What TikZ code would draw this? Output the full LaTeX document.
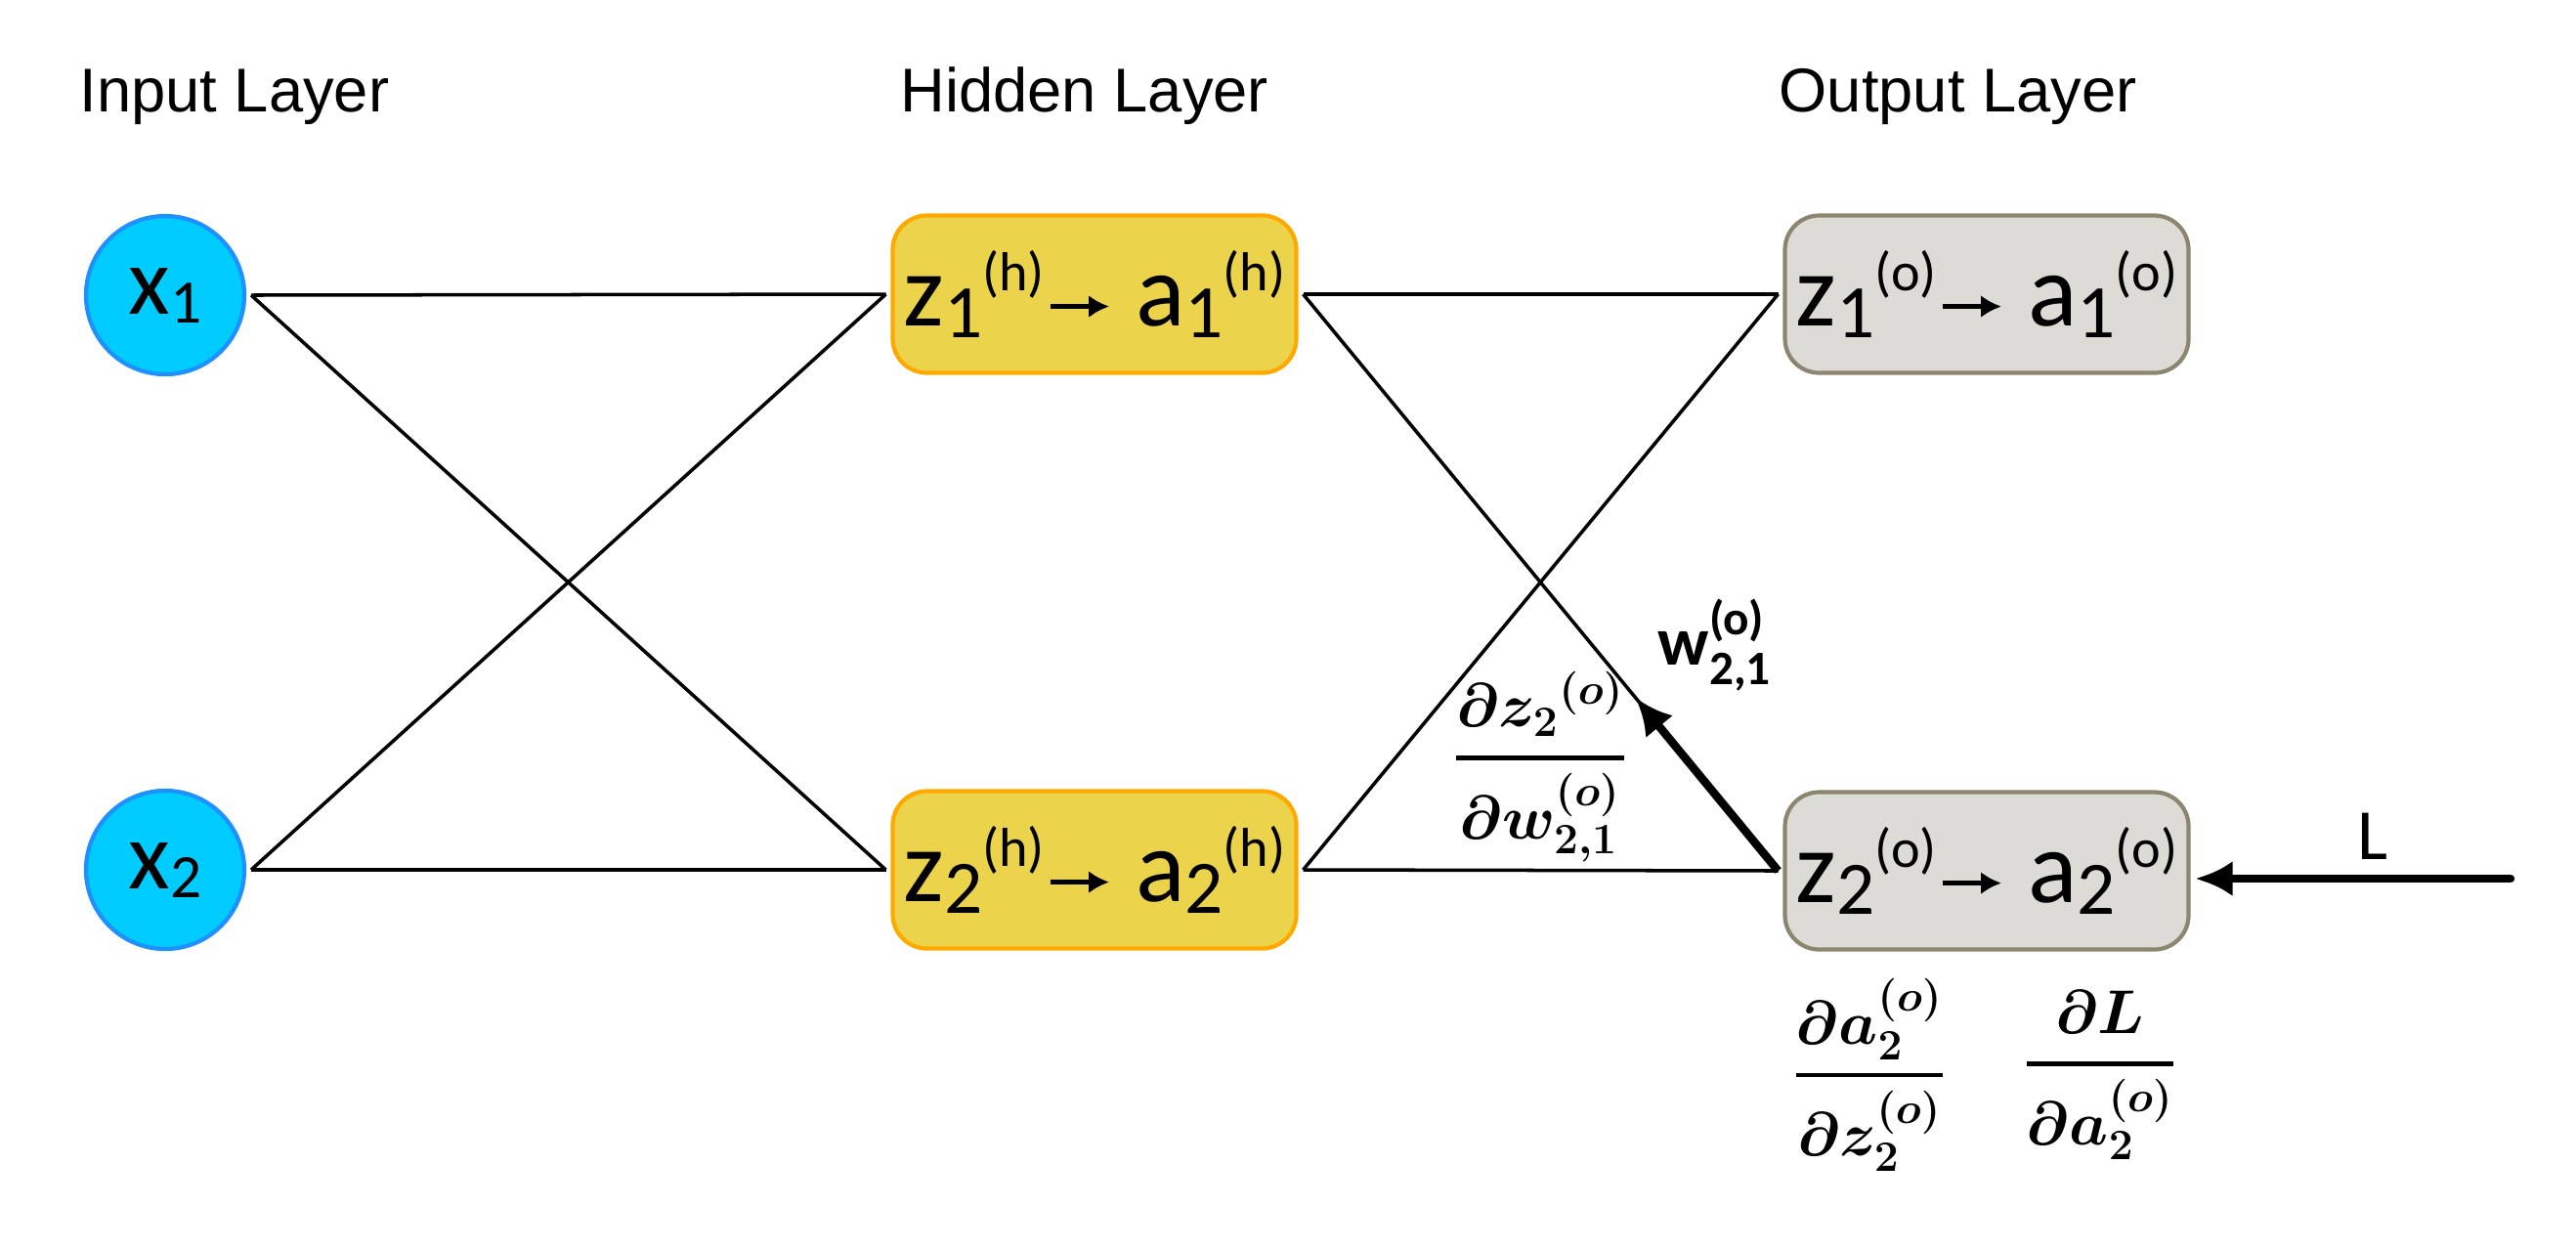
\documentclass[tikz,border=0pt]{standalone}
\usepackage{fix-cm}
\usepackage{amsmath}
\usepackage{fontspec}
\setmainfont{Carlito}
\newfontfamily\titlefont{Liberation Sans}
\usetikzlibrary{arrows.meta,calc,positioning}

\definecolor{inputfill}{RGB}{0,204,255}
\definecolor{inputborder}{RGB}{30,144,255}
\definecolor{hiddenfill}{RGB}{236,211,76}
\definecolor{hiddenborder}{RGB}{255,168,0}
\definecolor{outputfill}{RGB}{221,219,214}
\definecolor{outputborder}{RGB}{140,134,112}

\newcommand{\actarrow}{\hspace{0.04cm}\tikz[baseline=0pt]\draw[black,sharp corners,line width=1.2pt,-{Latex[length=0.21cm,width=0.23cm]}] (0,0.2) -- (0.6,0.2);\hspace{0.25cm}}
\newcommand{\actv}[3]{#1\raisebox{-0.12cm}{\fontsize{22}{22}\selectfont #2}\raisebox{0.36cm}{\fontsize{16}{16}\selectfont (#3)}}
\newcommand{\flowtext}[2]{\fontsize{30}{30}\selectfont\actv{z}{#1}{#2}\actarrow\actv{a}{#1}{#2}}
\newcommand{\inputtext}[1]{\fontsize{28}{28}\selectfont x\raisebox{-0.09cm}{\fontsize{18}{18}\selectfont #1}}
\newcommand{\thickfrac}[2]{\genfrac{}{}{1.3pt}{0}{#1}{#2}}

\begin{document}
\begin{tikzpicture}[x=1cm,y=1cm]
\tikzstyle{inputnode} = [circle, draw=inputborder, fill=inputfill, line width=1.2pt, minimum size=1.62cm, inner sep=0pt, outer sep=0.07cm]
\tikzstyle{hiddennode} = [rectangle, rounded corners=0.35cm, draw=hiddenborder, fill=hiddenfill, line width=1.2pt, minimum width=4.13cm, minimum height=1.61cm, inner sep=0pt, outer sep=0.07cm]
\tikzstyle{outputnode} = [hiddennode, draw=outputborder, fill=outputfill]
\tikzstyle{layertitle} = [anchor=base west, font=\titlefont\fontsize{18}{18}\selectfont, inner sep=0pt]
\tikzstyle{edge} = [line width=1pt]
\tikzstyle{backprop} = [line width=2.4pt, -{Latex[length=0.38cm,width=0.36cm]}]
\tikzstyle{deriv} = [font=\fontsize{18}{18}\selectfont\boldmath, inner sep=0pt]

\fill[white] (0,0) rectangle (26.36,-12.78);
\useasboundingbox (0,0) rectangle (26.36,-12.78);

\node[layertitle] (intitle) at (0.81,-1.14) {Input Layer};
\node[layertitle] (hidtitle) at (9.21,-1.14) {Hidden Layer};
\node[layertitle] (outtitle) at (18.20,-1.14) {Output Layer};

\node[inputnode] (x1) at (1.69,-3.02) {\inputtext{1}};
\node[inputnode] (x2) at (1.69,-8.90) {\inputtext{2}};
\node[hiddennode] (h1) at (11.20,-3.01) {\flowtext{1}{h}};
\node[hiddennode] (h2) at (11.20,-8.90) {\flowtext{2}{h}};
\node[outputnode] (o1) at (20.33,-3.01) {\flowtext{1}{o}};
\node[outputnode] (o2) at (20.33,-8.91) {\flowtext{2}{o}};

\draw[edge] (x1.east) -- (h1.west);
\draw[edge] (x1.east) -- (h2.west);
\draw[edge] (x2.east) -- (h1.west);
\draw[edge] (x2.east) -- (h2.west);
\draw[edge] (h1.east) -- (o1.west);
\draw[edge] (h1.east) -- (o2.west);
\draw[edge] (h2.east) -- (o1.west);
\draw[edge] (h2.east) -- (o2.west);

\draw[backprop] (o2.west) -- ($(o2.west)!0.3!(h1.east)$);
\coordinate (lossin) at (25.69,-8.99);
\draw[backprop, line cap=round] (lossin) -- (lossin -| o2.east);
\node[font=\fontsize{21}{21}\selectfont] (losslabel) at (24.28,-8.56) {L};

\node[font=\bfseries\fontsize{20}{20}\selectfont] (wlabel) at (17.55,-6.60) {w$^{\text{(o)}}_{\text{2,1}}$};
\node[deriv] (dzdw) at (15.76,-7.85) {$\displaystyle\thickfrac{\partial z_2{}^{(o)}}{\partial w_{2,1}^{(o)}}$};
\node[deriv] (dadz) at (19.13,-11.00) {$\displaystyle\thickfrac{\partial a_2^{(o)}}{\partial z_2^{(o)}}$};
\node[deriv] (dlda) at (21.49,-11.00) {$\displaystyle\thickfrac{\partial L}{\partial a_2^{(o)}}$};
\end{tikzpicture}
\end{document}
